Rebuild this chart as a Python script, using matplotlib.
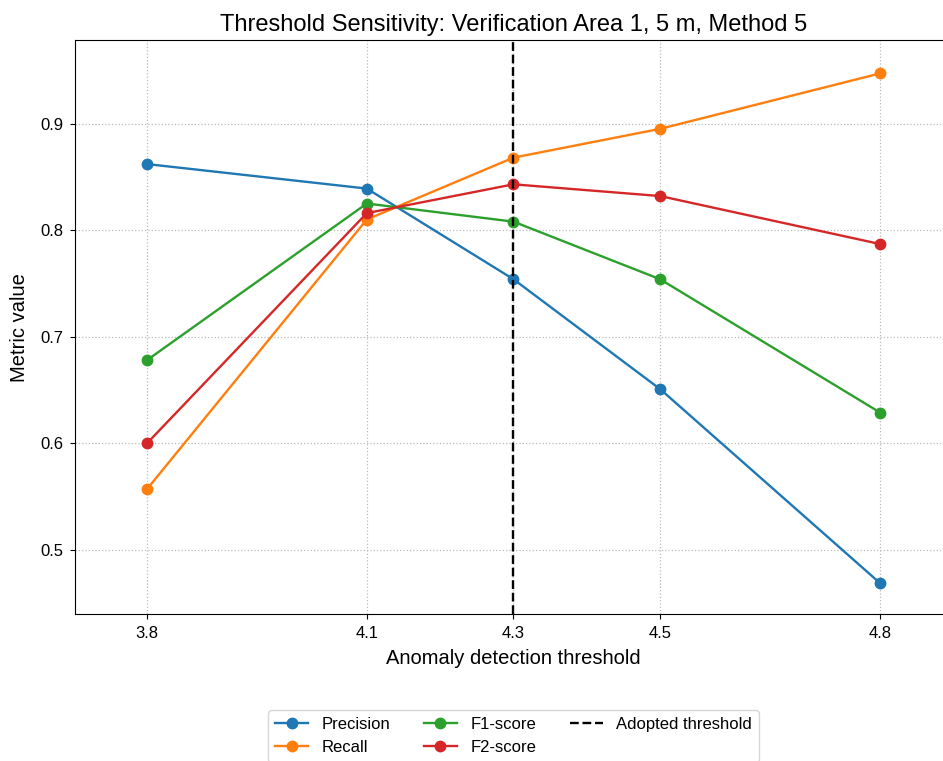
import matplotlib
matplotlib.use("Agg")
import matplotlib.pyplot as plt

plt.rcParams['font.family'] = ['Liberation Sans', 'DejaVu Sans']

# thresholds tested
thresholds = [3.8, 4.1, 4.3, 4.5, 4.8]
threshold_labels = ['3.8', '4.1', '4.3', '4.5', '4.8']
adopted = 4.3

# metric values
precision = [0.862, 0.839, 0.754, 0.651, 0.469]
recall = [0.557, 0.810, 0.868, 0.895, 0.947]
f1_score = [0.678, 0.825, 0.808, 0.754, 0.629]
f2_score = [0.600, 0.816, 0.843, 0.832, 0.787]

fig = plt.figure(figsize=(9.43, 7.61), dpi=100)
ax = fig.add_axes([0.0795, 0.193, 0.930, 0.754])

ax.plot(thresholds, precision, marker='o', color='#1f77b4', lw=1.7, ms=7.5, label='Precision')
ax.plot(thresholds, recall, marker='o', color='#ff7f0e', lw=1.7, ms=7.5, label='Recall')
ax.plot(thresholds, f1_score, marker='o', color='#2ca02c', lw=1.7, ms=7.5, label='F1-score')
ax.plot(thresholds, f2_score, marker='o', color='#d62728', lw=1.7, ms=7.5, label='F2-score')
ax.axvline(adopted, color='black', linestyle='--', lw=1.7, label='Adopted threshold')

ax.set_xticks(thresholds)
ax.set_xticklabels(threshold_labels)
ax.set_yticks([0.5, 0.6, 0.7, 0.8, 0.9])
ax.set_xlim(3.702, 4.898)
ax.set_ylim(0.440, 0.978)
ax.tick_params(labelsize=12, pad=5)
ax.grid(True, linestyle=':', color='#bbbbbb', lw=0.9)

ax.set_xlabel('Anomaly detection threshold', fontsize=14.5, labelpad=6)
ax.set_ylabel('Metric value', fontsize=14.5, labelpad=8)
ax.set_title('Threshold Sensitivity: Verification Area 1, 5 m, Method 5', fontsize=17, pad=7)

ax.legend(loc='upper center', bbox_to_anchor=(0.5, -0.153), ncol=3, fontsize=12,
          frameon=True)

fig.savefig('out.png', dpi=100)
